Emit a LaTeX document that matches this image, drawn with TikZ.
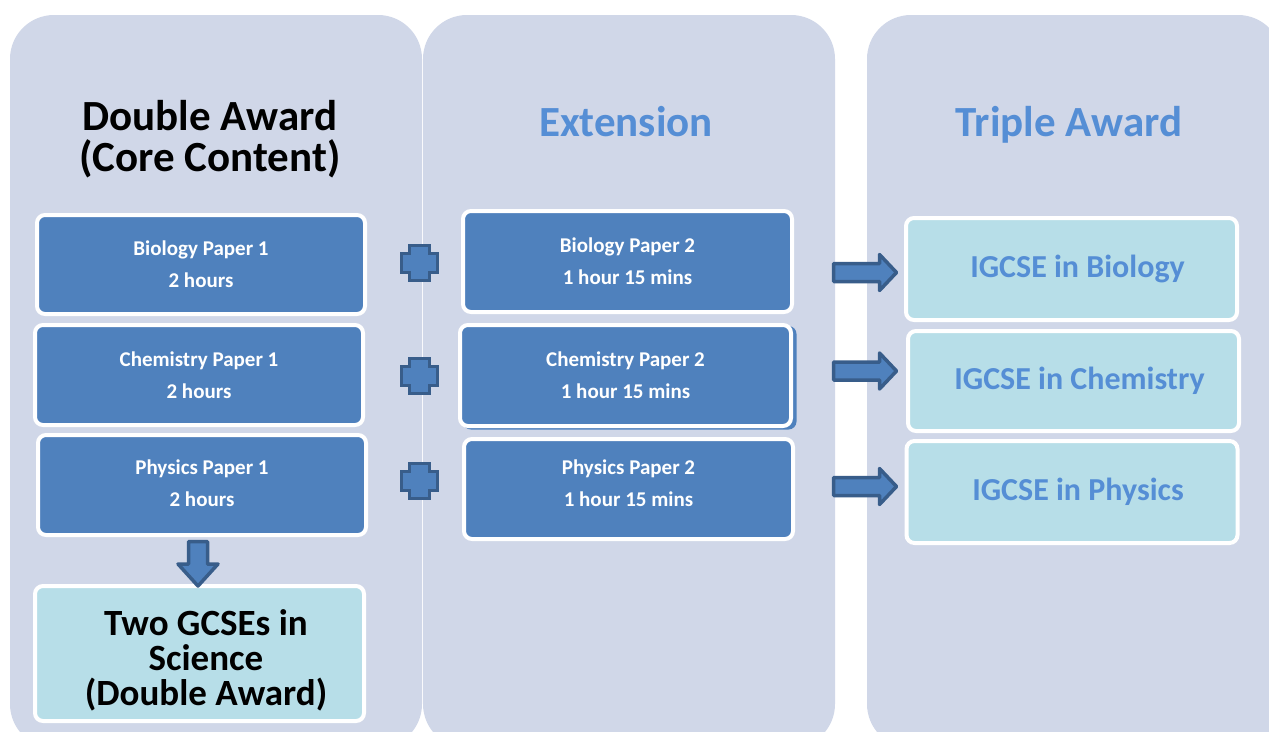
\documentclass[tikz,border=0pt]{standalone}
\usepackage{fontspec}
\setmainfont{Carlito}
\definecolor{panel}{HTML}{D0D7E8}
\definecolor{boxblue}{HTML}{4F81BD}
\definecolor{darkblue}{HTML}{385D8A}
\definecolor{lightbox}{HTML}{B7DEE8}
\definecolor{titleblue}{HTML}{558ED5}
\begin{document}
\begin{tikzpicture}[x=1pt,y=-1pt,
  panelbg/.style={fill=panel, rounded corners=44pt},
  paper/.style={draw=white, line width=4pt, fill=boxblue, rounded corners=8pt, text=white, align=center,
    font=\bfseries\fontsize{21}{32}\selectfont, inner sep=0pt},
  result/.style={draw=white, line width=4pt, fill=lightbox, rounded corners=8pt, text=titleblue, align=center,
    font=\bfseries\fontsize{32}{36}\selectfont, inner sep=0pt},
  coltitle/.style={font=\bfseries\fontsize{43}{41}\selectfont, align=center, inner sep=0pt},
  blockarrow/.style={fill=boxblue, draw=darkblue, line width=3.5pt},
  plussign/.pic={\draw[blockarrow] (-10,-17.5) -- (10,-17.5) -- (10,-9.5) -- (18,-9.5) -- (18,9.5) -- (10,9.5) -- (10,17.5) -- (-10,17.5) -- (-10,9.5) -- (-18,9.5) -- (-18,-9.5) -- (-10,-9.5) -- cycle;},
  rightarrow/.pic={\draw[blockarrow, line join=round] (-31,-9) -- (15,-9) -- (15,-18) -- (32,0) -- (15,18) -- (15,9) -- (-31,9) -- cycle;},
  downarrow/.pic={\draw[blockarrow, line join=round] (-9.5,1.5) -- (9.5,1.5) -- (9.5,24) -- (20,24) -- (0,46) -- (-20,24) -- (-9.5,24) -- cycle;}
]
\useasboundingbox (0,0) rectangle (1269,731);
\clip (0,0) rectangle (1269,731);
\fill[white] (0,0) rectangle (1269,731);
% panels
\fill[panelbg] (10,15) rectangle (422,748);
\fill[panelbg] (423,15) rectangle (835,748);
\fill[panelbg] (867,15) rectangle (1282,748);
% titles
\node[coltitle, text=black] (t1) at (210,139.5) {Double Award\\(Core Content)};
\node[coltitle, text=titleblue] (t2) at (626,122) {Extension};
\node[coltitle, text=titleblue] (t3) at (1069,125) {Triple Award};
% left column
\node[paper, minimum width=328pt, minimum height=99pt] (bp1) at (201,264.5) {Biology Paper 1\\2 hours};
\node[paper, minimum width=328pt, minimum height=100pt] (cp1) at (199,375) {Chemistry Paper 1\\2 hours};
\node[paper, minimum width=328pt, minimum height=100pt, text depth=4pt] (pp1) at (202,485) {Physics Paper 1\\2 hours};
% middle column
\node[paper, minimum width=329pt, minimum height=101pt] (bp2) at (627.5,261.5) {Biology Paper 2\\1 hour 15 mins};
\fill[boxblue, rounded corners=8pt] (463,326) rectangle (796.5,429.5);
\node[paper, minimum width=331pt, minimum height=101pt] (cp2) at (625.5,375.5) {Chemistry Paper 2\\1 hour 15 mins};
\node[paper, minimum width=329pt, minimum height=100pt, text depth=11pt] (pp2) at (628.5,489) {Physics Paper 2\\1 hour 15 mins};
% right column
\node[result, minimum width=331pt, minimum height=102pt] (ib) at (1071.5,269) {\hspace*{12pt}IGCSE in Biology};
\node[result, minimum width=331pt, minimum height=100pt] (ic) at (1073.5,381) {\hspace*{12pt}IGCSE in Chemistry};
\node[result, minimum width=331pt, minimum height=102pt] (ip) at (1072,492) {\hspace*{12pt}IGCSE in Physics};
% bottom result
\node[result, minimum width=329pt, minimum height=135pt] (gcse) at (199.5,653.5) {};
\node[align=center, inner sep=0pt, font=\bfseries\fontsize{37}{35}\selectfont, text=black] (gcsetext) at (206,660) {Two GCSEs in\\Science\\(Double Award)};
% plus signs
\pic at (419.5,263) {plussign};
\pic at (419.5,376) {plussign};
\pic at (419.5,481) {plussign};
% right arrows
\pic at (864.5,272.5) {rightarrow};
\pic at (864.5,371) {rightarrow};
\pic at (864.5,486.5) {rightarrow};
% down arrow
\pic at (198,540) {downarrow};
\end{tikzpicture}
\end{document}
